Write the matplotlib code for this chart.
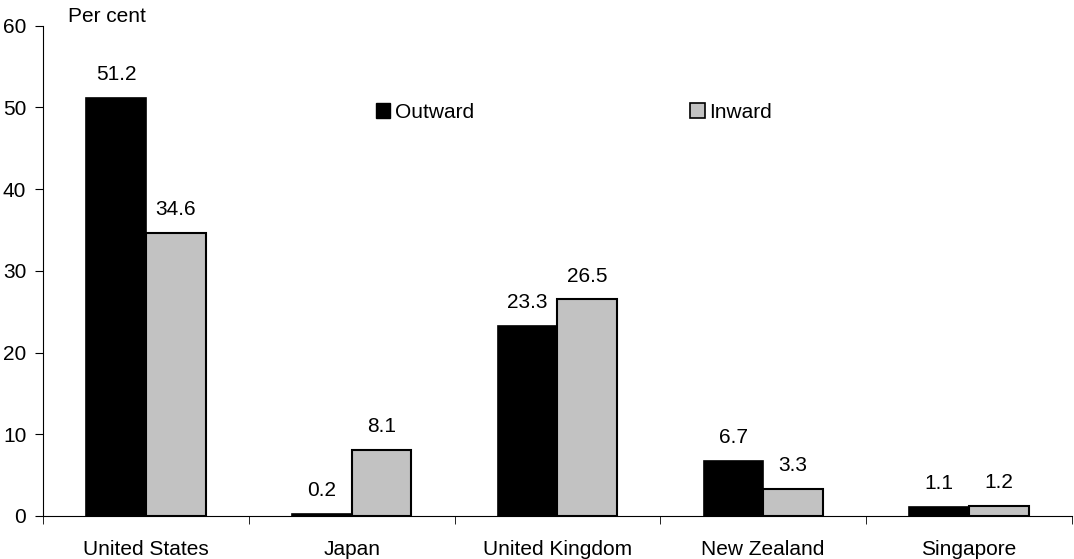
import numpy as np
import matplotlib.pyplot as plt
from matplotlib.patches import Patch

plt.rcParams['font.family'] = ['Liberation Sans', 'DejaVu Sans']

# Datos
countries = ['United States', 'Japan', 'United Kingdom', 'New Zealand', 'Singapore']
outward = [51.2, 0.2, 23.3, 6.7, 1.1]
inward = [34.6, 8.1, 26.5, 3.3, 1.2]

fig = plt.figure(figsize=(10.74, 5.59), dpi=100)
ax = fig.add_axes([0.040, 0.077, 0.958, 0.877])

x = np.arange(len(countries))
w = 0.29
gray = '#c2c2c2'
fs = 15

b1 = ax.bar(x - w / 2, outward, w, color='black', edgecolor='black', linewidth=1.2)
b2 = ax.bar(x + w / 2, inward, w, color=gray, edgecolor='black', linewidth=1.5)

# Etiquetas de valores
for bars, vals in ((b1, outward), (b2, inward)):
    for rect, v in zip(bars, vals):
        ax.annotate(f'{v:.1f}', (rect.get_x() + rect.get_width() / 2, v),
                    xytext=(0, 10), textcoords='offset points',
                    ha='center', va='bottom', fontsize=fs)

ax.set_xlim(-0.5, len(countries) - 0.5)
ax.set_ylim(0, 60)
ax.set_yticks(range(0, 61, 10))
ax.set_xticks(x)
ax.set_xticklabels(countries)
ax.set_xticks(np.arange(-0.5, len(countries)), minor=True)
ax.tick_params(axis='x', which='major', length=0, pad=17, labelsize=fs)
ax.tick_params(axis='x', which='minor', length=6, direction='out')
ax.tick_params(axis='y', length=6, direction='out', labelsize=fs, pad=6)

for s in ('top', 'right'):
    ax.spines[s].set_visible(False)

fig.text(68 / 1074, 1 - 16 / 559, 'Per cent', fontsize=fs, ha='left', va='center')

handles = [Patch(facecolor='black', edgecolor='black', label='Outward'),
           Patch(facecolor=gray, edgecolor='black', linewidth=1.2, label='Inward')]
ax.legend(handles=handles, ncol=2, frameon=False, fontsize=fs,
          loc='center', bbox_to_anchor=(0.516, 0.823),
          handlelength=0.7, handleheight=0.7, handletextpad=0.2,
          columnspacing=10.4)

fig.savefig('out.png', dpi=100)
